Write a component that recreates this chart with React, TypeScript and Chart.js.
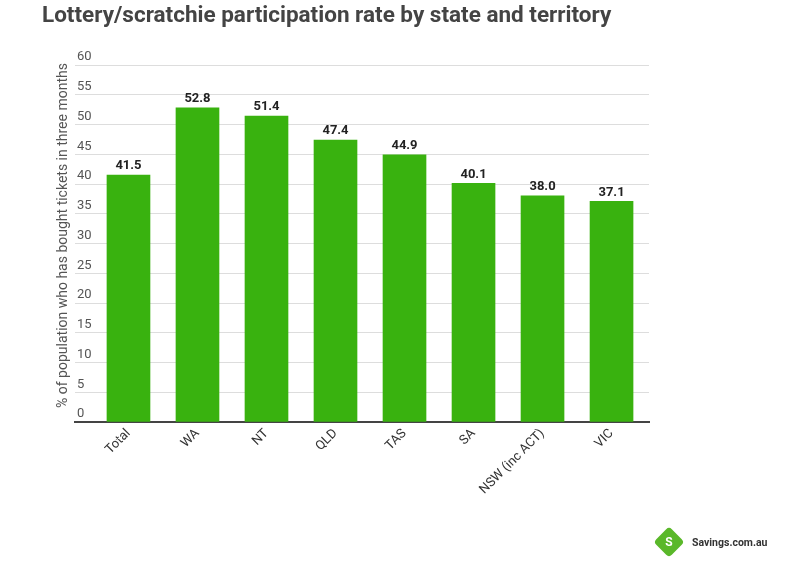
import React, { useEffect, useRef } from "react";
import { Chart, registerables } from "chart.js";

Chart.register(...registerables);

const categories = ["Total", "WA", "NT", "QLD", "TAS", "SA", "NSW (inc ACT)", "VIC"];
const rates = [41.5, 52.8, 51.4, 47.4, 44.9, 40.1, 38.0, 37.1];
const titleText = "Lottery/scratchie participation rate by state and territory";
const yAxisTitle = "% of population who has bought tickets in three months";
const yMin = 0;
const yMax = 60;
const yStep = 5;

const BAR_COLOR = "#39b20f";
const FONT = "Roboto, 'Noto Sans', sans-serif";

const valueLabels = {
  id: "valueLabels",
  afterDatasetsDraw(chart: any) {
    const ctx = chart.ctx;
    const meta = chart.getDatasetMeta(0);
    ctx.save();
    ctx.font = `bold 13px ${FONT}`;
    ctx.fillStyle = "#222222";
    ctx.textAlign = "center";
    ctx.textBaseline = "middle";
    meta.data.forEach((bar: any, i: number) => {
      ctx.fillText(rates[i].toFixed(1), bar.x, bar.y - 9);
    });
    ctx.restore();
  },
};

const yTitle = {
  id: "yTitle",
  afterDraw(chart: any) {
    const ctx = chart.ctx;
    const area = chart.chartArea;
    ctx.save();
    ctx.translate(area.left - 12, (area.top + area.bottom) / 2 - 8);
    ctx.rotate(-Math.PI / 2);
    ctx.font = `14px ${FONT}`;
    ctx.fillStyle = "#555555";
    ctx.textAlign = "center";
    ctx.textBaseline = "middle";
    ctx.fillText(yAxisTitle, 0, 0);
    ctx.restore();
  },
};

export default function App() {
  const canvasRef = useRef<HTMLCanvasElement | null>(null);

  useEffect(() => {
    if (!canvasRef.current) return;
    const chart = new Chart(canvasRef.current, {
      type: "bar",
      data: {
        datasets: [
          {
            data: rates.map((v, i) => ({ x: i, y: v })),
            backgroundColor: BAR_COLOR,
            borderWidth: 0,
            barThickness: 43,
          },
        ],
      },
      options: {
        animation: false,
        responsive: true,
        maintainAspectRatio: false,
        layout: { padding: { left: 42, right: 151, top: 0, bottom: 0 } },
        plugins: {
          legend: { display: false },
          tooltip: { enabled: false },
          title: {
            display: true,
            text: titleText,
            align: "start",
            color: "#444444",
            font: { family: FONT, size: 22.5, weight: "bold" },
            padding: { top: 3, bottom: 35 },
          },
        },
        scales: {
          x: {
            type: "linear",
            min: -0.775,
            max: 7.543,
            offset: false,
            grid: { display: false, drawTicks: false },
            border: { display: true, color: "#444444", width: 2 },
            ticks: {
              stepSize: 1,
              includeBounds: false,
              autoSkip: false,
              minRotation: 45,
              maxRotation: 45,
              padding: 4,
              color: "#333333",
              font: { family: FONT, size: 13 },
              callback: (v: any) =>
                Number.isInteger(v) && categories[v] !== undefined ? categories[v] : "",
            },
            afterFit: (scale: any) => {
              scale.height = 150;
            },
          },
          y: {
            min: yMin,
            max: yMax,
            grid: { color: "#dddddd", lineWidth: 1, drawTicks: false },
            border: { display: false },
            ticks: {
              stepSize: yStep,
              mirror: true,
              padding: 2,
              labelOffset: -8,
              color: "#555555",
              font: { family: FONT, size: 13 },
            },
            afterFit: (scale: any) => {
              scale.width = 33;
            },
          },
        },
      } as any,
      plugins: [valueLabels, yTitle],
    });
    return () => chart.destroy();
  }, []);

  return (
    <>
      <style>{`body{margin:0}`}</style>
      <div style={{ position: "relative", width: 800, height: 572 }}>
        <canvas ref={canvasRef} />
        <div
          style={{
            position: "absolute",
            left: 658,
            top: 531,
            width: 22,
            height: 22,
            transform: "rotate(45deg)",
            background: "#5ab82a",
            borderRadius: 4,
          }}
        />
        <div
          style={{
            position: "absolute",
            left: 658,
            top: 533,
            width: 22,
            textAlign: "center",
            color: "#ffffff",
            fontFamily: FONT,
            fontWeight: 700,
            fontSize: 12,
            lineHeight: "18px",
          }}
        >
          S
        </div>
        <div
          style={{
            position: "absolute",
            left: 692,
            top: 535,
            color: "#333333",
            fontFamily: FONT,
            fontWeight: 700,
            fontSize: 10.5,
            lineHeight: "16px",
          }}
        >
          Savings.com.au
        </div>
      </div>
    </>
  );
}
